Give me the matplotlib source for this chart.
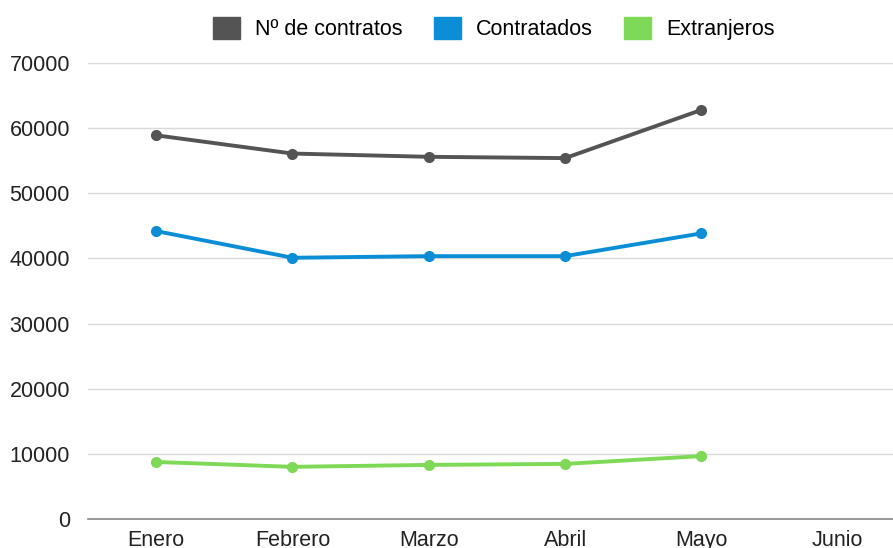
import matplotlib
matplotlib.use("Agg")
import matplotlib.pyplot as plt
from matplotlib.patches import Patch

meses = ["Enero", "Febrero", "Marzo", "Abril", "Mayo", "Junio"]
n_contratos = [58900, 56100, 55600, 55400, 62800]
contratados = [44200, 40100, 40350, 40350, 43850]
extranjeros = [8750, 8000, 8300, 8450, 9650]

series = [
    ("Nº de contratos", n_contratos, "#545454"),
    ("Contratados", contratados, "#0b8ed6"),
    ("Extranjeros", extranjeros, "#7ed957"),
]

plt.rcParams['font.family'] = ['Liberation Sans', 'DejaVu Sans']

fig = plt.figure(figsize=(8.93, 5.48), dpi=100)
ax = fig.add_axes([0.0985, 0.053, 0.916, 0.832])

for name, vals, color in series:
    ax.plot(range(len(vals)), vals, color=color, lw=2.8, marker='o', ms=7,
            solid_capstyle='round', zorder=3)

ax.set_xlim(-0.5, len(meses) - 0.5)
ax.set_ylim(0, 70000)
ax.set_yticks(range(0, 70001, 10000))
ax.set_xticks(range(len(meses)))
ax.set_xticklabels(meses)
ax.tick_params(axis='both', length=0, labelsize=15.5, labelcolor='#222222')
ax.tick_params(axis='x', pad=8)
ax.tick_params(axis='y', pad=13)
ax.grid(axis='y', color='#d9d9d9', lw=1)
ax.set_axisbelow(True)
for s in ['top', 'right', 'left']:
    ax.spines[s].set_visible(False)
ax.spines['bottom'].set_color('#888888')
ax.spines['bottom'].set_linewidth(1.2)

handles = [Patch(facecolor=c, edgecolor=c, label=n) for n, v, c in series]
fig.legend(handles=handles, loc='center', bbox_to_anchor=(0.553, 0.948), ncol=3,
           frameon=False, fontsize=15.5, handlelength=1.25, handleheight=1.25,
           handletextpad=0.7, columnspacing=1.45)

fig.savefig("out.png", dpi=100)
